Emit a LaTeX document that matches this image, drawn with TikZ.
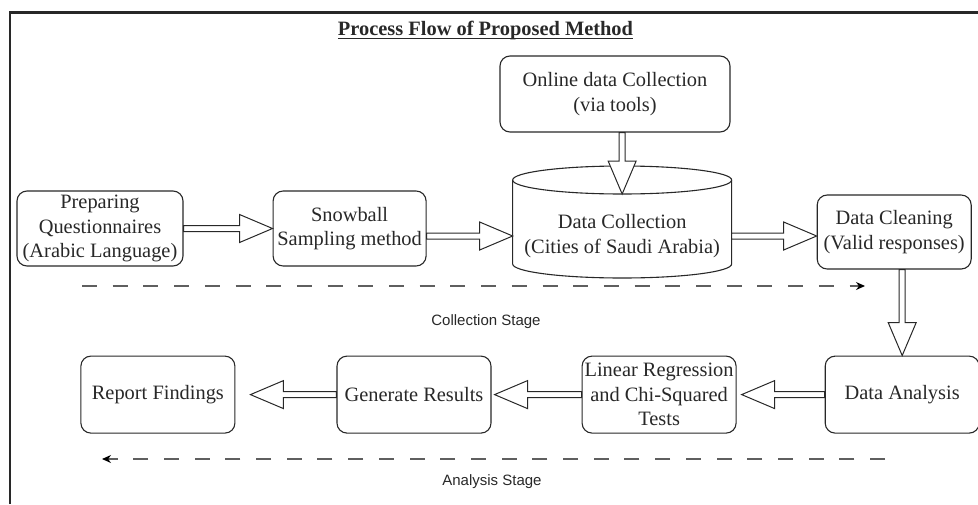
\documentclass[tikz,border=0pt]{standalone}
\usepackage{fontspec}
\setmainfont{Liberation Serif}
\setsansfont{Liberation Sans}
\usepackage{tikz}
\usetikzlibrary{arrows.meta,positioning,calc}
\definecolor{pfink} {RGB}{40,40,40}
\definecolor{pfdash}{RGB}{95,95,95}
\tikzset{
  box/.style={rectangle,rounded corners=10pt,draw=pfink,line width=1.1pt,
              fill=white,text=pfink,minimum height=75pt,minimum width=154pt,
              font=\fontsize{20.4}{24.5}\selectfont,align=center,inner sep=1pt},
  cylbox/.style={rectangle,minimum width=219pt,minimum height=84pt,
              inner sep=1pt,outer sep=0pt,text=pfink,
              font=\fontsize{20.4}{24.5}\selectfont,align=center},
  cyl/.style={draw=pfink,line width=1.1pt},
  blk/.style={draw=pfink,line width=1pt,fill=white,line join=miter},
  stg/.style={pfdash,line width=1.3pt,dash pattern=on 15pt off 15.7pt,
              -{Stealth[length=9pt,width=8pt,color=black]}},
  lbl/.style={font=\sffamily\fontsize{15}{18}\selectfont,text=pfink},
}
% hollow block arrow from #2 to #3, stopping #1 short of #3
\newcommand{\blkarrow}[3][0pt]{%
  \coordinate (ba) at (#2);
  \coordinate (bb) at ($(#3)!#1!(ba)$);
  \coordinate (hb) at ($(bb)!33pt!(ba)$);
  \draw[blk] ($(ba)!3pt!90:(bb)$) -- ($(hb)!3pt!90:(bb)$)
    -- ($(hb)!14pt!90:(bb)$) -- (bb) -- ($(hb)!14pt!-90:(bb)$)
    -- ($(hb)!3pt!-90:(bb)$) -- ($(ba)!3pt!-90:(bb)$) -- cycle;}

\begin{document}
\begin{tikzpicture}[x=1pt,y=1pt]
  \useasboundingbox (0,0) rectangle (978,-504);
  % frame, cut off at the right and bottom
  \draw[pfink,line width=2.6pt] (10,-504) |- (978,-12.5);

  \node[inner sep=0pt,anchor=base,text=pfink,
        font=\bfseries\fontsize{20.4}{24}\selectfont] (title) at (485.5,-35.5)
    {Process Flow of Proposed Method};
  \draw[pfink,line width=0.9pt] ([yshift=-2.5pt]title.base west)
    -- ([yshift=-2.5pt]title.base east);

  % collection row
  \node[box,minimum width=166pt] (prep) at (100,-228.5)
    {Preparing\\Questionnaires\\(Arabic Language)};
  \node[box,minimum width=153pt,right=89pt of prep] (snow)
    {Snowball\\Sampling method};
  \node[cylbox,right=86pt of snow,yshift=-7.5pt] (dc)
    {Data Collection\\(Cities of Saudi Arabia)};
  \draw[cyl] ($(dc.north)+(0,14)$) ellipse[x radius=109.5pt,y radius=14pt];
  \draw[cyl] ($(dc.north west)+(0,14)$) -- ($(dc.south west)+(0,14)$)
    arc[start angle=180,end angle=360,x radius=109.5pt,y radius=14pt]
    -- ($(dc.north east)+(0,14)$);
  \node[box,minimum height=74pt,right=85pt of dc,yshift=4pt] (clean)
    {Data Cleaning\\(Valid responses)};
  \node[box,minimum width=230pt,minimum height=76pt] (online) at (615,-94)
    {Online data Collection\\(via tools)};

  % analysis row
  \node[box,minimum height=77pt,below=86pt of clean,xshift=8pt] (ana) {Data Analysis};
  \node[box,minimum height=77pt,left=88pt of ana] (lr)
    {Linear Regression\\and Chi-Squared\\Tests};
  \node[box,minimum height=77pt,left=90pt of lr] (gen) {Generate Results};
  \node[box,minimum height=77pt,left=101pt of gen] (rep) {Report Findings};

  \blkarrow{prep.east}{snow.west}
  \blkarrow{snow.east |- dc.west}{dc.west}
  \blkarrow{dc.east}{dc.east -| clean.west}
  \blkarrow{online.south -| dc.north}{dc.north}
  \blkarrow{clean.south -| ana.north}{ana.north}
  \blkarrow[5pt]{ana.west}{lr.east}
  \blkarrow[3pt]{lr.west}{gen.east}
  \blkarrow[15pt]{gen.west}{rep.east}

  % stages
  \coordinate (colS) at (82,-286);
  \coordinate (colE) at (865,-286);
  \draw[stg] (colS) -- (colE);
  \node[lbl] (colL) at (486,-322) {Collection Stage};
  \coordinate (anaS) at (885,-459);
  \coordinate (anaE) at (102,-459);
  \draw[stg] (anaS) -- (anaE);
  \node[lbl] (anaL) at (492,-482) {Analysis Stage};
\end{tikzpicture}
\end{document}
